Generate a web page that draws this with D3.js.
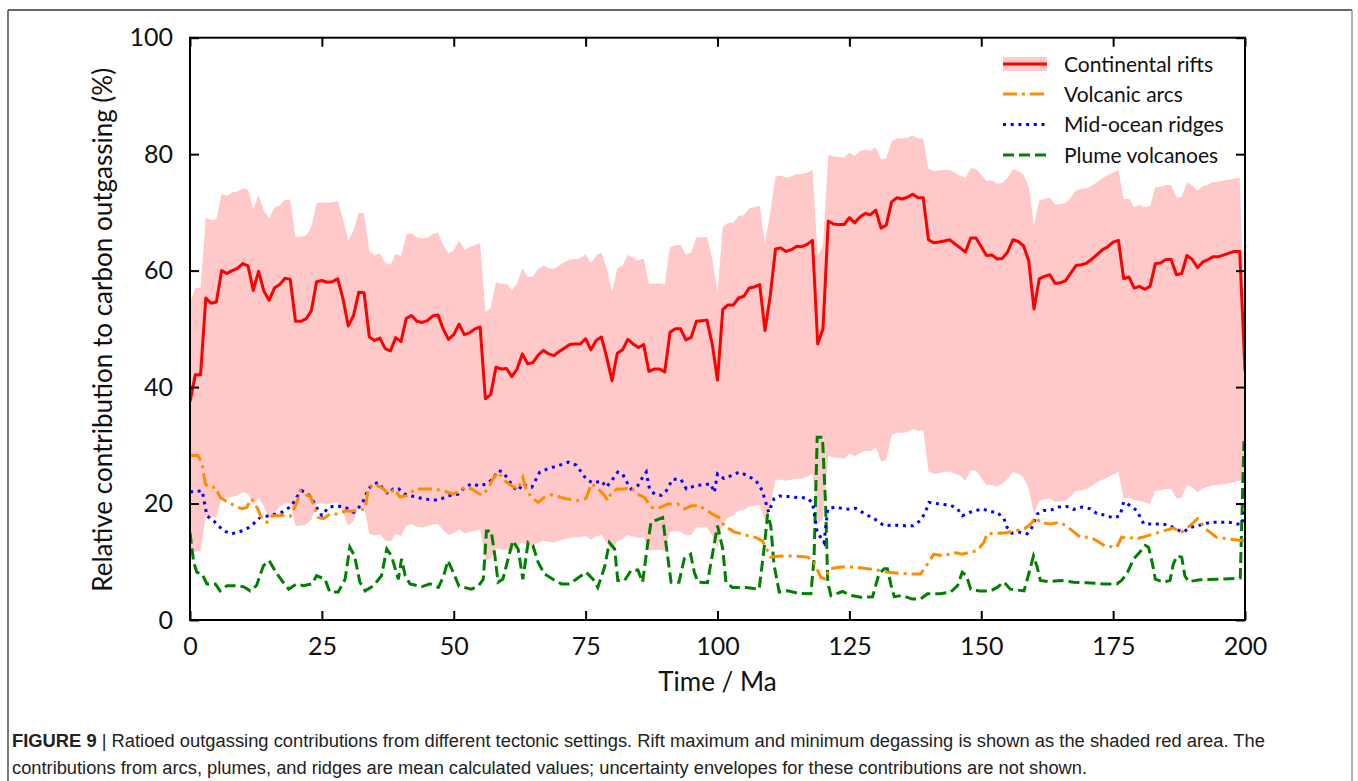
<!DOCTYPE html>
<html>
<head>
<meta charset="utf-8">
<script src="https://cdn.jsdelivr.net/npm/d3@7"></script>
<style>
  html, body { margin: 0; padding: 0; background: #fff; }
  svg { display: block; }
</style>
</head>
<body>
<svg id="chart" width="1358" height="781"></svg>
<script>
// ---------------- DATA ----------------
// Continental rifts: 0..200 Ma at 1 Ma steps
const riftAges = d3.range(0, 201);
const riftMean = [
37.5,42.1,42.1,55.3,54.4,54.6,60.0,59.5,60.0,60.4,61.2,60.8,56.6,59.9,56.5,54.9,57.0,57.6,58.7,58.5,
51.3,51.3,51.7,53.1,58.1,58.3,58.0,58.1,58.6,55.2,50.5,52.3,56.3,56.2,48.6,48.0,48.4,46.6,46.2,48.5,
47.8,51.8,52.3,51.3,51.1,51.4,52.2,52.4,50.0,48.2,49.0,50.8,49.0,49.3,50.0,50.3,38.0,38.7,43.4,43.1,
43.2,41.8,43.1,45.7,44.0,44.2,45.5,46.3,45.7,45.4,46.1,46.7,47.3,47.4,47.4,48.3,46.4,48.0,48.6,45.1,
41.1,45.8,46.4,48.2,47.4,46.8,47.3,42.7,43.1,43.1,42.6,49.4,50.0,50.0,48.1,48.5,51.3,51.4,51.5,47.4,
41.2,53.3,54.1,54.1,55.3,55.6,57.0,57.2,57.6,49.7,55.7,63.7,63.9,63.3,63.6,64.2,64.1,64.5,65.2,47.4,
50.0,68.5,68.0,67.9,67.9,69.1,68.2,69.2,69.8,69.6,70.4,67.3,67.8,71.8,72.5,72.3,72.6,73.1,72.5,72.5,
65.3,64.8,64.9,65.1,65.3,64.6,63.9,63.2,65.6,65.6,64.1,62.6,62.7,62.0,62.1,63.2,65.3,65.0,64.3,61.7,
53.4,58.6,59.0,59.3,57.8,57.9,58.3,59.6,60.9,61.0,61.3,62.0,62.8,63.6,64.1,64.9,65.2,58.6,58.9,57.0,
57.3,56.8,57.3,61.2,61.3,61.9,61.9,59.3,59.5,62.6,61.9,60.5,61.5,61.9,62.4,62.4,62.7,63.0,63.3,63.3,
42.8];
const riftMax = [
54.5,57.0,57.0,69.1,68.7,68.8,73.2,72.8,73.4,73.6,74.1,73.9,70.6,73.0,70.3,69.0,70.8,71.2,72.2,72.1,
65.8,65.8,66.0,67.5,71.6,71.7,71.6,71.7,72.0,68.9,65.2,66.9,69.9,69.9,63.3,62.7,62.9,61.3,61.0,62.9,
62.5,66.2,66.4,65.7,65.5,65.7,66.3,66.5,64.4,62.9,63.5,65.2,63.6,64.0,64.4,64.7,52.9,53.6,58.0,57.7,
57.8,56.6,57.8,60.4,58.9,59.0,60.3,60.9,60.4,60.3,60.9,61.5,61.9,62.0,62.1,62.8,61.3,62.6,63.1,60.3,
56.3,60.4,60.9,62.7,62.2,61.8,62.1,57.7,57.8,57.8,57.6,64.0,64.4,64.4,62.8,63.1,65.7,65.7,65.8,62.0,
56.3,67.5,68.2,68.2,69.4,69.5,70.7,70.9,71.2,64.6,70.0,76.2,76.3,76.0,76.2,76.6,76.6,76.8,77.3,62.6,
64.3,79.9,79.6,79.5,79.4,80.3,79.7,80.5,80.8,80.6,81.2,79.1,79.3,82.2,82.7,82.7,82.8,83.2,82.7,82.7,
77.5,77.1,77.2,77.3,77.3,76.8,76.3,75.8,77.6,77.5,76.5,75.4,75.5,74.9,75.1,75.9,77.4,77.1,76.5,74.3,
67.9,72.1,72.3,72.5,71.3,71.4,71.6,72.6,73.8,74.0,74.1,74.6,75.2,75.9,76.4,76.8,77.3,72.2,72.4,70.9,
71.3,70.9,71.1,74.3,74.4,74.7,74.7,72.5,72.7,75.2,74.6,73.8,74.5,74.8,75.2,75.2,75.5,75.6,75.8,75.9,
50.0];
const riftMin = [
12.0,11.7,11.8,17.9,17.6,17.7,21.1,21.0,21.2,21.4,22.0,21.7,19.8,21.0,19.5,17.4,18.5,19.5,20.0,20.0,
16.2,16.2,16.4,17.2,19.9,20.0,19.9,20.0,20.3,18.5,16.2,17.0,19.4,19.5,14.8,14.5,14.7,13.7,13.5,14.8,
14.4,16.2,16.5,16.0,15.9,16.1,16.4,16.5,15.4,14.6,14.9,15.6,14.9,15.1,15.3,15.5,10.2,10.5,12.3,12.1,
12.1,11.7,12.5,13.3,12.7,12.8,13.3,13.6,13.4,13.3,13.6,13.9,14.1,14.2,14.2,14.5,13.8,14.4,14.6,13.3,
11.9,13.6,13.9,14.6,14.3,14.1,14.2,11.9,12.0,12.0,11.9,15.1,15.3,15.2,14.5,14.6,15.9,15.9,15.9,14.5,
12.5,16.5,17.6,17.9,18.8,18.9,19.5,19.6,19.8,17.1,19.6,24.1,24.1,23.9,24.1,24.3,24.3,24.6,25.2,16.5,
17.4,28.2,27.9,27.8,27.7,28.6,28.1,28.7,29.1,29.0,29.7,27.2,27.5,31.7,32.2,32.1,32.3,32.8,32.5,32.6,
25.5,25.1,25.2,25.4,25.5,25.1,24.8,23.9,25.7,25.6,24.4,23.2,23.2,22.9,23.4,24.2,25.4,25.1,24.5,22.6,
18.2,20.5,20.7,20.9,20.3,20.4,20.5,21.3,22.2,22.3,22.5,23.0,23.7,24.1,24.5,25.0,25.4,20.9,21.0,20.6,
20.5,20.2,19.9,22.2,22.3,22.5,22.5,20.9,21.0,23.2,22.8,22.0,22.6,22.9,23.2,23.2,23.3,23.5,23.7,23.9,
24.0];

// Volcanic arcs (mean)
const arcAges = [0,1.5,2.3,2.9,3.5,4.8,5.7,7,8.6,9.8,10.7,11.7,12.9,13.6,14.6,15.6,16.8,17.9,19,20.2,20.9,22.2,22.8,23.7,24.3,25.3,26.5,28.1,29.4,30.7,33.2,33.8,34.8,36.7,37.6,38.8,39.8,41.4,42.6,44.5,46.4,48.3,49.9,51.1,52.1,53.4,55.3,56.5,57.4,58.4,59.7,60.9,62.2,63.1,63.7,64.7,66,67.2,68.5,69.8,71.3,73.6,75.1,76.1,77.4,78.6,79.2,79.9,81.1,82.4,83.5,84.9,86.2,87.4,88.6,90.6,92.5,93.8,95,96.3,97.5,99.4,100.3,101.3,102,103.2,104.6,105.7,107.2,108.5,110.1,112,114.5,117.1,118.3,119.6,120.5,121.2,123.4,125.9,128.4,130.2,132.2,134.7,137.2,138.5,139.8,141,142.9,144.8,146.4,147.7,149.2,150.5,151.1,153.1,154.8,156.2,158.1,159.4,160.3,161.3,163.2,165,166.9,168.8,170.7,171.9,173.5,175.7,176.6,178.2,179.3,180.5,182.7,184.6,186.4,188,189.6,191,192.6,194.6,197.1,200];
const arcVals = [28.2,28.3,26.8,23.4,22.8,22.8,21.1,20.3,19.6,19.1,19.3,20.8,19.0,17.4,16.8,17.9,17.9,18.0,17.8,20.0,22.2,21.4,21.3,19.1,17.6,17.4,18.2,18.2,18.7,18.7,19.1,22.5,23.4,22.5,21.6,22.5,21.1,21.4,22.5,22.5,22.5,22.1,21.6,22.2,22.8,22.5,21.4,22.5,24.2,25.4,23.9,23.1,22.5,24.5,22.5,21.1,20.2,21.1,21.5,21.2,20.8,20.5,20.9,23.4,22.5,21.4,20.5,22.0,22.5,22.5,22.8,21.6,21.0,19.4,19.1,19.9,19.9,19.1,19.6,19.7,19.1,18.0,17.6,16.2,15.8,15.1,14.8,14.5,14.2,13.6,10.8,11.0,11.0,10.8,9.9,7.3,7.0,8.8,9.1,9.1,8.8,8.6,8.2,8.0,7.9,7.9,9.6,11.3,11.0,11.6,11.3,11.6,11.9,13.3,14.8,14.9,15.0,15.3,15.6,16.5,17.6,16.7,16.5,16.8,15.6,14.2,14.2,13.6,12.7,12.5,14.2,14.2,13.9,14.2,14.8,15.3,15.8,15.1,16.2,17.4,15.6,14.2,13.9,13.6];

// Mid-ocean ridges (mean)
const ridgeAges = [0,2.3,2.6,3.2,4.5,6.4,7.9,9.5,11,12,13.3,15.5,17.4,19.3,20.2,21.2,22.5,23.5,24.2,25,26.2,27.5,29.4,31,32,32.9,33.8,34.8,35.7,36.6,37.6,38.5,39.6,40.8,42.4,43.9,45.8,47.1,48.6,50.2,50.8,52.1,53.4,55,56.2,57.4,58.4,59.3,60.3,61.3,62.2,63.1,64,64.8,66.3,67.9,70.1,71.7,73.2,74.2,75.1,76.4,78,78.9,79.9,81.1,82,82.6,83.6,84.9,85.8,86.5,87.1,88.1,89.3,90.3,91.5,93.1,94.1,95.9,97.4,98.7,99.4,100,101.2,102.6,104.1,105.7,107.3,108.5,109.7,110.7,111.7,113.5,115.4,116.8,118,118.9,120.2,120.9,122.4,124.4,126.2,127.8,129.7,131.6,133.2,135.4,137,138.5,139.4,140.1,142.3,144.2,145.5,146.4,147.9,150.2,151.8,153,154.3,154.9,155.8,157.2,158.7,159.6,160.6,161.8,163,164.7,166.2,167.5,169.1,170.7,171.9,173.5,175.1,176.3,177,178.3,179.5,180.8,182.7,184.3,185.8,187.1,188.3,189.6,191.2,192.1,193.7,195.3,196.9,198.4,199.5,200];
const ridgeVals = [22.0,22.2,20.8,17.9,17.0,15.3,14.8,15.2,15.8,16.5,17.6,18.0,18.5,19.6,21.1,22.2,21.5,20.2,19.0,17.9,19.3,19.6,19.4,18.5,19.3,20.5,22.5,23.4,23.6,22.5,21.6,22.5,22.5,21.6,21.2,20.9,20.6,20.6,21.2,21.6,21.6,22.8,23.4,23.0,23.4,24.2,25.7,25.4,24.2,22.8,22.2,23.4,22.9,22.8,25.4,26.0,26.6,27.1,26.6,25.4,24.2,23.5,23.9,22.8,23.9,25.4,25.1,24.0,22.5,23.1,24.5,25.4,22.5,21.6,21.4,22.2,24.2,24.1,22.5,23.1,23.2,23.4,21.9,25.1,24.3,24.8,25.4,24.8,23.9,22.2,18.5,20.8,21.3,21.2,21.0,21.0,20.2,15.1,13.3,19.1,19.4,19.0,19.2,18.3,17.4,16.2,16.3,16.2,16.2,17.1,18.5,20.2,19.9,19.7,19.1,17.9,18.5,19.1,18.6,18.5,17.4,15.9,14.9,15.1,14.8,15.9,18.2,18.8,18.8,19.4,19.5,19.0,19.4,19.1,18.3,18.0,17.5,17.9,20.3,19.6,18.8,16.5,16.5,16.5,16.2,15.5,15.1,15.9,16.2,16.5,16.8,16.8,16.8,16.5,16.5,19.5];

// Plume volcanoes (mean)
const plumeAges = [0,0.7,1.3,2.3,3.2,4.8,5.7,7,8.9,10.2,11.4,12.6,13.9,15,16.5,17.4,18.7,20.2,21.5,23.1,24,25.6,26.5,28.1,29.4,30.3,31.2,32.2,33.2,34.8,36.3,37.3,38.2,39.5,40.1,40.8,41.7,43.9,45.5,47.1,48.1,48.9,49.9,51,53.4,54.7,55.6,56.2,57.1,57.8,58.4,59.3,60.3,61.2,62.2,63.1,64.1,65,66,67.2,68.8,70.4,72,73.2,75.1,76.4,77.3,78.6,79.5,80.5,81.1,82.4,83.6,84.9,85.8,86.8,87.4,89.6,90.2,91.2,92.7,93.7,94.9,95.6,96.3,98.1,99.1,100,101,101.6,102.8,105.4,107.9,108.9,109.5,110.1,110.7,111.7,113.3,115.2,117.7,118.3,118.9,119.9,120.5,120.9,121.5,123.7,125.3,127.2,129.4,130.6,131.6,132.2,132.9,133.5,135.1,136.9,138.5,139.8,142.3,144.2,145.5,146.4,147.2,148,149.6,151.8,153,154.3,155.5,158.1,159,159.9,160.6,161.2,162.8,165,167.5,170,173.2,175.7,176.6,177.6,178.9,180,181.1,181.7,182.4,183,184.6,185.8,186.4,187.1,188,188.6,189.3,191.5,194.6,197.1,199.1,199.8,200];
const plumeVals = [15.0,9.9,8.2,7.9,6.2,6.2,5.0,5.9,5.9,5.7,5.0,5.9,9.3,10.2,7.9,6.8,5.3,6.2,5.9,6.2,7.6,7.0,4.8,4.8,7.0,12.5,11.0,6.5,5.0,5.9,7.6,12.2,11.0,7.0,10.5,7.6,6.2,5.7,6.2,5.6,7.6,10.2,8.2,5.8,5.3,5.9,7.0,15.3,15.3,11.0,6.5,7.0,10.5,13.6,12.2,7.0,13.3,12.8,9.9,7.9,7.0,6.2,6.2,7.0,8.2,7.0,5.6,9.1,13.3,12.2,6.8,6.8,8.5,8.6,6.5,13.3,16.8,17.6,13.3,6.5,6.5,10.5,11.3,8.2,6.5,6.4,11.6,16.2,12.2,6.5,5.6,5.6,5.3,12.8,18.2,16.2,9.6,4.8,5.0,4.6,4.5,10.5,31.4,31.4,19.6,6.5,4.2,4.9,4.2,3.9,4.0,7.9,8.8,8.8,6.0,4.0,4.2,3.6,3.6,4.5,4.5,4.8,5.9,8.2,7.6,5.3,5.0,5.0,5.6,6.5,5.3,5.0,7.9,11.0,9.1,6.8,6.6,6.8,6.5,6.4,6.2,6.2,6.8,7.9,10.5,11.6,12.8,12.5,9.9,7.0,6.5,6.8,9.6,11.0,10.8,7.6,6.6,6.9,7.0,7.1,7.2,30.5,30.5];

const xTicks = [0, 25, 50, 75, 100, 125, 150, 175, 200];
const yTicks = [0, 20, 40, 60, 80, 100];
const legendLabels = ["Continental rifts", "Volcanic arcs", "Mid-ocean ridges", "Plume volcanoes"];
const xTitle = "Time / Ma";
const yTitle = "Relative contribution to carbon outgassing (%)";
const captionBold = "FIGURE 9";
const captionLine1 = " | Ratioed outgassing contributions from different tectonic settings. Rift maximum and minimum degassing is shown as the shaded red area. The";
const captionLine2 = "contributions from arcs, plumes, and ridges are mean calculated values; uncertainty envelopes for these contributions are not shown.";

// ---------------- DRAW ----------------
const svg = d3.select("#chart");
const L = 190, R = 1245, T = 37.7, B = 620;
const x = d3.scaleLinear().domain([0, 200]).range([L, R]);
const y = d3.scaleLinear().domain([0, 100]).range([B, T]);
const FONT = "Lato, 'Open Sans', sans-serif";

// outer frame
svg.append("line").attr("x1", 8).attr("y1", 10).attr("x2", 1352).attr("y2", 10).attr("stroke", "#333").attr("stroke-width", 1.3);
svg.append("line").attr("x1", 8).attr("y1", 10).attr("x2", 8).attr("y2", 781).attr("stroke", "#333").attr("stroke-width", 1.3);
svg.append("line").attr("x1", 1352).attr("y1", 10).attr("x2", 1352).attr("y2", 781).attr("stroke", "#888").attr("stroke-width", 1.3);

svg.append("clipPath").attr("id", "clip").append("rect")
  .attr("x", L).attr("y", T).attr("width", R - L).attr("height", B - T);
const plot = svg.append("g").attr("clip-path", "url(#clip)");

const riftData = riftAges.map((a, i) => ({ a, m: riftMean[i], hi: riftMax[i], lo: riftMin[i] }));
plot.append("path").datum(riftData)
  .attr("fill", "#ffc9c9")
  .attr("d", d3.area().x(d => x(d.a)).y0(d => y(d.lo)).y1(d => y(d.hi)));

function series(ages, vals) { return ages.map((a, i) => [a, vals[i]]); }
const line = d3.line().x(d => x(d[0])).y(d => y(d[1]));

plot.append("path").datum(series(plumeAges, plumeVals))
  .attr("fill", "none").attr("stroke", "#008000").attr("stroke-width", 3)
  .attr("stroke-dasharray", "11,5").attr("d", line);
plot.append("path").datum(series(ridgeAges, ridgeVals))
  .attr("fill", "none").attr("stroke", "#0000ff").attr("stroke-width", 3)
  .attr("stroke-dasharray", "3,4.7").attr("d", line);
plot.append("path").datum(series(arcAges, arcVals))
  .attr("fill", "none").attr("stroke", "#ff8c00").attr("stroke-width", 3)
  .attr("stroke-dasharray", "14,5,3,5").attr("d", line);
plot.append("path").datum(riftData)
  .attr("fill", "none").attr("stroke", "#ff0000").attr("stroke-width", 3)
  .attr("stroke-linejoin", "round")
  .attr("d", d3.line().x(d => x(d.a)).y(d => y(d.m)));

// axes (ticks inward, mirrored)
function styleAxis(g) {
  g.selectAll(".domain").remove();
  g.selectAll(".tick line").attr("stroke", "#000").attr("stroke-width", 2);
  g.selectAll(".tick text").attr("font-family", FONT).attr("font-size", 25).attr("fill", "#111");
}
svg.append("g").attr("transform", `translate(0,${B})`)
  .call(d3.axisBottom(x).tickValues(xTicks).tickFormat(d3.format("d")).tickSize(-9).tickPadding(17))
  .call(styleAxis);
svg.append("g").attr("transform", `translate(0,${T})`)
  .call(d3.axisTop(x).tickValues(xTicks).tickFormat("").tickSize(-9))
  .call(styleAxis);
svg.append("g").attr("transform", `translate(${L},0)`)
  .call(d3.axisLeft(y).tickValues(yTicks).tickFormat(d3.format("d")).tickSize(-9).tickPadding(17))
  .call(styleAxis);
svg.append("g").attr("transform", `translate(${R},0)`)
  .call(d3.axisRight(y).tickValues(yTicks).tickFormat("").tickSize(-9))
  .call(styleAxis);
svg.append("rect").attr("x", L).attr("y", T).attr("width", R - L).attr("height", B - T)
  .attr("fill", "none").attr("stroke", "#000").attr("stroke-width", 2);

// titles
svg.append("text").attr("x", (L + R) / 2).attr("y", 691).attr("text-anchor", "middle")
  .attr("font-family", FONT).attr("font-size", 26).attr("fill", "#111").text(xTitle);
svg.append("text").attr("transform", `translate(112,${(T + B) / 2 + 1}) rotate(-90)`)
  .attr("text-anchor", "middle").attr("font-family", FONT).attr("font-size", 26).attr("fill", "#111").text(yTitle);

// legend
const lg = svg.append("g");
const lx0 = 1003, lx1 = 1047, ltx = 1064;
const ly = [64, 94, 124.5, 155];
lg.append("rect").attr("x", lx0).attr("y", ly[0] - 7).attr("width", lx1 - lx0).attr("height", 14).attr("fill", "#ffc9c9");
const lstyles = [
  { c: "#ff0000", d: null },
  { c: "#ff8c00", d: "14,5,3,5" },
  { c: "#0000ff", d: "3,4.7" },
  { c: "#008000", d: "11,5" }
];
legendLabels.forEach((lab, i) => {
  lg.append("line").attr("x1", lx0).attr("x2", lx1).attr("y1", ly[i]).attr("y2", ly[i])
    .attr("stroke", lstyles[i].c).attr("stroke-width", 3)
    .attr("stroke-dasharray", lstyles[i].d);
  lg.append("text").attr("x", ltx).attr("y", ly[i] + 7.5)
    .attr("font-family", FONT).attr("font-size", 21).attr("fill", "#111").text(lab);
});

// caption
const CF = "'Liberation Sans Narrow', 'Liberation Sans', Arial, sans-serif";
const c1 = svg.append("text").attr("x", 12).attr("y", 747).attr("font-family", CF).attr("font-size", 18)
  .attr("fill", "#222").attr("textLength", 1253).attr("lengthAdjust", "spacingAndGlyphs");
c1.append("tspan").attr("font-weight", "bold").text(captionBold);
c1.append("tspan").text(captionLine1);
svg.append("text").attr("x", 12).attr("y", 774).attr("font-family", CF).attr("font-size", 18)
  .attr("fill", "#222").attr("textLength", 1075).attr("lengthAdjust", "spacingAndGlyphs").text(captionLine2);
</script>
</body>
</html>
